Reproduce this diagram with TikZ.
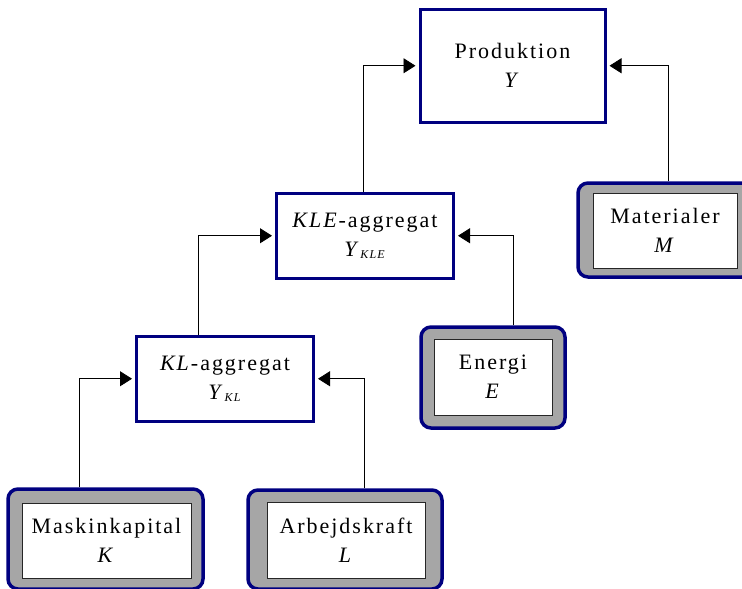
\documentclass[tikz,border=0pt]{standalone}
\usepackage{fontspec}
\setmainfont{Liberation Serif}
\newfontfamily\spc{Liberation Serif}[LetterSpace=9]
\usetikzlibrary{arrows.meta}
\definecolor{navy}{RGB}{0,0,128}
\definecolor{skygge}{RGB}{166,166,166}
\newcommand{\nedre}[1]{\raisebox{-2.5pt}{\fontsize{12}{12}\selectfont\textit{#1}}}
\tikzset{
	agg/.style={draw=navy, line width=3pt, fill=white, align=center, inner sep=0pt, font=\fontsize{22}{29}\selectfont\spc},
	kilde/.style={draw=navy, line width=3.5pt, fill=skygge, rounded corners=10pt, inner sep=0pt},
	felt/.style={draw=black!85, line width=0.9pt, fill=white, align=center, inner sep=0pt, font=\fontsize{22}{29}\selectfont\spc},
	pil/.style={-{Triangle[length=12pt,width=15pt]}, line width=0.8pt, shorten >=3pt}
}
\begin{document}
\begin{tikzpicture}[x=1pt,y=-1pt]
			\useasboundingbox (0,0) rectangle (742,589);
			\clip (0,0) rectangle (742,589);
			% aggregater
			\node[agg, minimum width=185pt, minimum height=113.5pt] (prod) at (512.5,65.75) {Produktion\\\textit{Y}};
			\node[agg, minimum width=177pt, minimum height=84.5pt] (kle) at (365,235.75) {\textit{KLE}-aggregat\\\textit{Y}\nedre{KLE}};
			\node[agg, minimum width=177pt, minimum height=84.5pt] (kl) at (225,378.75) {\textit{KL}-aggregat\\\textit{Y}\nedre{KL}};
			% input
			\foreach \n/\x/\y/\w/\h/\ix/\iy/\iw/\ih/\t in {
				mat/665/230/174/94/665/230.5/144/75/{Materialer\\\textit{M}},
				en/493/377.5/144/101/493/377/118/76/{Energi\\\textit{E}},
				mk/105.5/539/195/100/106.5/540.5/169/75/{Maskinkapital\\\textit{K}},
				ak/345/539.5/194/99/346/540/158/76/{Arbejdskraft\\\textit{L}}}
			{
				\node[kilde, minimum width=\w pt, minimum height=\h pt] (\n r) at (\x,\y) {};
				\node[felt, minimum width=\iw pt, minimum height=\ih pt] (\n) at (\ix,\iy) {\t};
			}
			% pile
			\draw[pil] ([xshift=-26.5pt]mkr.north) |- (kl.west);
			\draw[pil] ([xshift=19pt]akr.north) |- (kl.east);
			\draw[pil] ([xshift=-27pt]kl.north) |- (kle.west);
			\draw[pil] ([xshift=20pt]enr.north) |- (kle.east);
			\draw[pil] ([xshift=-2pt]kle.north) |- (prod.west);
			\draw[pil] ([xshift=3pt]matr.north) |- (prod.east);
		\end{tikzpicture}
\end{document}
